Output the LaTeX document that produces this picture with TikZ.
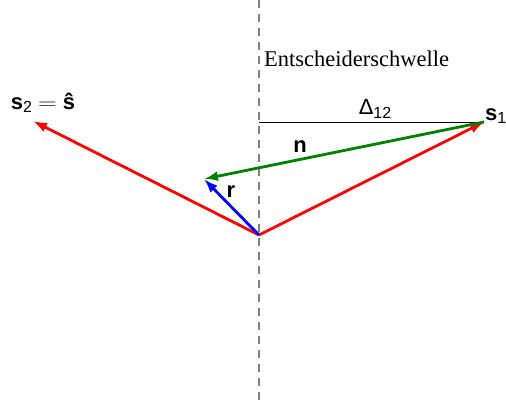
\documentclass[tikz,border=0pt]{standalone}
\usepackage{fontspec}
\setmainfont{Liberation Sans}
\newfontfamily\seriffont{Liberation Serif}
\usetikzlibrary{arrows.meta}
\begin{document}
\begin{tikzpicture}[x=1pt,y=-1pt,
  vec/.style={line width=2.8pt,-{Latex[length=14pt,width=10pt]}},
  lbl/.style={inner sep=0pt,font=\fontsize{22}{26}\selectfont}]
\useasboundingbox (0,0) rectangle (506,405);
\coordinate (top) at (259,0);
\coordinate (bot) at (259,405);
\coordinate (O) at (259,235);
\coordinate (s1) at (484,122);
\coordinate (s2) at (33,121);
\coordinate (h) at (259,122);
\coordinate (r) at (204,179);
\draw[gray,line width=1.2pt,dash pattern=on 8pt off 6pt] (top) -- (bot);
\draw[black,line width=0.9pt] (h) -- (s1);
\draw[vec,red] (O) -- (s1);
\draw[vec,red] (O) -- (s2);
\draw[vec,green!50!black] (s1) -- (r);
\draw[vec,blue] (O) -- (r);
\node[anchor=west,inner sep=0pt,font=\seriffont\fontsize{22.5}{26}\selectfont] (thr) at (264,59) {Entscheiderschwelle};
\node[lbl] (d12) at (375,109) {Δ\raisebox{-0.3ex}{\fontsize{16}{18}\selectfont 12}};
\node[lbl,anchor=west] (ls1) at (485,116) {\textbf{s}\raisebox{-0.3ex}{\fontsize{16}{18}\selectfont 1}};
\node[lbl] (ls2) at (43,103) {\textbf{s}\raisebox{-0.3ex}{\fontsize{16}{18}\selectfont 2}\;\scalebox{1.25}[1]{$=$}\;\textbf{ŝ}};
\node[lbl] (ln) at (300,147) {\textbf{n}};
\node[lbl] (lr) at (231,192) {\textbf{r}};
\end{tikzpicture}
\end{document}
